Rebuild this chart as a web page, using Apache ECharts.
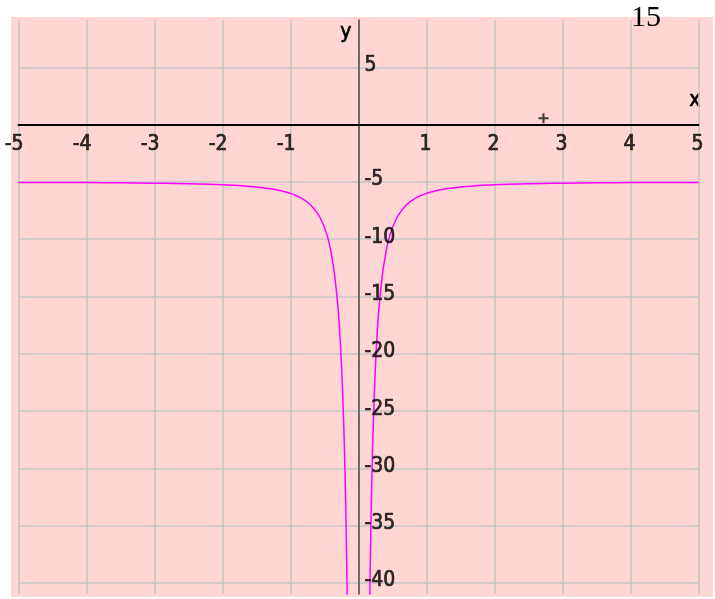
<!DOCTYPE html>
<html>
<head>
<meta charset="utf-8">
<style>
  html, body { margin: 0; padding: 0; background: #fff; }
  #chart { width: 715px; height: 599px; }
</style>
<script src="https://cdn.jsdelivr.net/npm/echarts@6/dist/echarts.min.js"></script>
</head>
<body>
<div id="chart"></div>
<script>
// curve, left and right of the y axis
const leftX = [-5, -4, -3.5, -3, -2.5, -2, -1.6, -1.3, -1.1, -1, -0.9, -0.8, -0.7, -0.6, -0.55, -0.5, -0.45, -0.4, -0.35, -0.3, -0.27, -0.25, -0.22, -0.2, -0.18, -0.16, -0.15];
const leftY = [-5.04, -5.06, -5.08, -5.11, -5.16, -5.25, -5.39, -5.59, -5.83, -6, -6.23, -6.56, -7.04, -7.78, -8.3, -9, -9.9, -11.25, -13.2, -16.1, -18.7, -21, -25.7, -30, -35.9, -44.1, -49.4];
const rightX = [0.15, 0.16, 0.18, 0.2, 0.22, 0.25, 0.27, 0.3, 0.35, 0.4, 0.45, 0.5, 0.55, 0.6, 0.7, 0.8, 0.9, 1, 1.1, 1.3, 1.6, 2, 2.5, 3, 3.5, 4, 5];
const rightY = [-49.4, -44.1, -35.9, -30, -25.7, -21, -18.7, -16.1, -13.2, -11.25, -9.9, -9, -8.3, -7.78, -7.04, -6.56, -6.23, -6, -5.83, -5.59, -5.39, -5.25, -5.16, -5.11, -5.08, -5.06, -5.04];

// the little cross near the x axis
const crossPoint = [[2.72, 0.55]];

// tick labels (0 is not labelled on either axis)
const xTicks = [-5, -4, -3, -2, -1, 1, 2, 3, 4, 5];
const yTicks = [-40, -35, -30, -25, -20, -15, -10, -5, 5];

const chart = echarts.init(document.getElementById('chart'));

const zip = (xs, ys) => xs.map((x, i) => [x, ys[i]]);
const narrowFont = '"Liberation Sans Narrow", "DejaVu Sans Condensed", "DejaVu Sans Mono"';
// thin outline in the same colour makes the narrow glyphs look heavier
const tickFont = {
  fontFamily: narrowFont,
  fontSize: 21,
  color: '#000',
  textBorderColor: '#000',
  textBorderWidth: 0.7
};

const option = {
  backgroundColor: '#fff',
  animation: false,
  graphic: [
    {
      type: 'rect',
      z: -10,
      shape: { x: 11, y: 17, width: 702, height: 580 },
      style: { fill: '#ffd6d3' }
    },
    {
      type: 'text',
      left: 631,
      top: 3,
      style: { text: '15', font: '30px "Liberation Serif"', fill: '#000' }
    },
    {
      type: 'text',
      left: 340,
      top: 22,
      style: { text: 'y', font: '21px ' + narrowFont, fill: '#000', stroke: '#000', lineWidth: 0.7 }
    },
    {
      type: 'text',
      left: 689,
      top: 90,
      style: { text: 'x', font: '21px ' + narrowFont, fill: '#000', stroke: '#000', lineWidth: 0.7 }
    }
  ],
  grid: {
    left: 18.5,
    right: 16.5,
    top: 20,
    bottom: 5,
    outerBoundsMode: 'none',
    containLabel: false
  },
  xAxis: {
    type: 'value',
    min: -5,
    max: 5,
    interval: 1,
    axisLine: { onZero: true, lineStyle: { color: '#000', width: 2 } },
    axisTick: { show: false },
    axisLabel: { show: false },
    splitLine: { show: true, lineStyle: { color: '#c4c4c4', width: 1.5 } }
  },
  yAxis: {
    type: 'value',
    min: -40.96,
    max: 9.13,
    axisLine: { onZero: true, lineStyle: { color: '#4a4a4a', width: 1.5 } },
    axisTick: { show: false, customValues: yTicks },
    axisLabel: { show: false, customValues: yTicks },
    splitLine: { show: true, lineStyle: { color: '#c4c4c4', width: 1.5 } }
  },
  series: [
    {
      type: 'line',
      data: zip(leftX, leftY),
      symbol: 'none',
      smooth: true,
      clip: true,
      lineStyle: { color: '#ff00ff', width: 1.5 }
    },
    {
      type: 'line',
      data: zip(rightX, rightY),
      symbol: 'none',
      smooth: true,
      clip: true,
      lineStyle: { color: '#ff00ff', width: 1.5 }
    },
    {
      type: 'scatter',
      data: crossPoint,
      symbol: 'path://M4,0H6V4H10V6H6V10H4V6H0V4H4Z',
      symbolSize: 10,
      itemStyle: { color: '#111' }
    },
    {
      // x tick labels sitting under the x axis line
      type: 'scatter',
      data: xTicks.map(v => [v, 0]),
      symbolSize: 0,
      silent: true,
      z: 5,
      label: {
        show: true,
        ...tickFont,
        position: 'bottom',
        distance: 9,
        align: 'right',
        offset: [5, 0],
        formatter: p => String(p.value[0])
      }
    },
    {
      // y tick labels to the right of the y axis line
      type: 'scatter',
      data: yTicks.map(v => [0, v]),
      symbolSize: 0,
      silent: true,
      z: 5,
      label: {
        show: true,
        ...tickFont,
        position: 'right',
        distance: 6,
        offset: [0, -2],
        formatter: p => String(p.value[1])
      }
    }
  ]
};

chart.setOption(option);
</script>
</body>
</html>
